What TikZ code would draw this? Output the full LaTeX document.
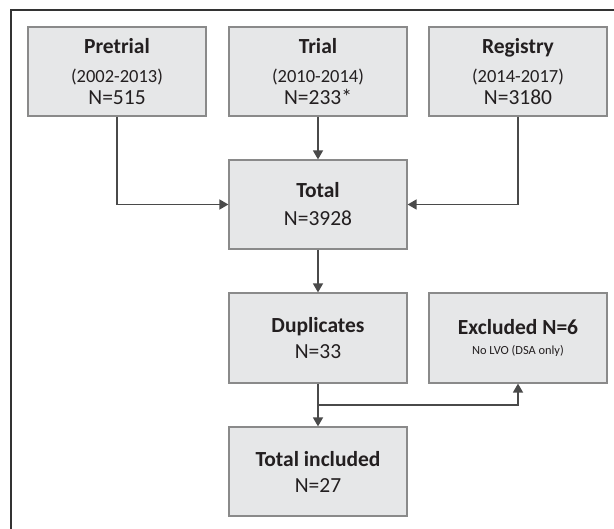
\documentclass[tikz,border=0pt]{standalone}
\usepackage{fontspec}
\setmainfont{Carlito}
\usetikzlibrary{arrows.meta}
\definecolor{boxfill}{HTML}{E6E7E8}
\definecolor{boxline}{HTML}{8A8A8A}
\definecolor{conn}{HTML}{4A4A4A}
\definecolor{txt}{HTML}{231F20}
\definecolor{frame}{HTML}{333333}
\begin{document}
\begin{tikzpicture}[x=1pt,y=-1pt,
  box/.style={draw=boxline,line width=1.2pt,fill=boxfill,minimum width=178pt,minimum height=89pt,
    inner sep=0pt,align=center,text=txt,font=\fontsize{21.5}{22}\selectfont},
  arr/.style={draw=conn,line width=1.5pt,-{Triangle[width=10pt,length=9pt]}}]
\useasboundingbox (0,0) rectangle (614,529);
\draw[frame,line width=2pt] (11,529) -- (11,10) -- (614,10);
\node[box] (pre) at (117,71.5) {{\bfseries Pretrial}\\[7pt]{\fontsize{18.5}{22}\selectfont (2002-2013)}\\N=515};
\node[box] (trial) at (318,71.5) {{\bfseries Trial}\\[7pt]{\fontsize{18.5}{22}\selectfont (2010-2014)}\\N=233*};
\node[box] (reg) at (518,71.5) {{\bfseries Registry}\\[7pt]{\fontsize{18.5}{22}\selectfont (2014-2017)}\\N=3180};
\node[box] (total) at (318,204.5) {{\bfseries Total}\\[6pt]N=3928};
\node[box,minimum height=90pt] (dup) at (318,338) {{\bfseries Duplicates}\\[4pt]N=33};
\node[box,minimum height=90pt] (exc) at (518,338) {{\bfseries Excluded N=6}\\[-2pt]{\fontsize{12.4}{14}\selectfont No LVO (DSA only)}};
\node[box] (inc) at (318,471.5) {{\bfseries Total included}\\[4pt]N=27};
\coordinate (br) at (318,405);
\draw[arr] (pre.south) |- (total.west);
\draw[arr] (reg.south) |- (total.east);
\draw[arr] (trial.south) -- (total.north);
\draw[arr] (total.south) -- (dup.north);
\draw[arr] (dup.south) -- (inc.north);
\draw[arr] (br) -| (exc.south);
\end{tikzpicture}
\end{document}
